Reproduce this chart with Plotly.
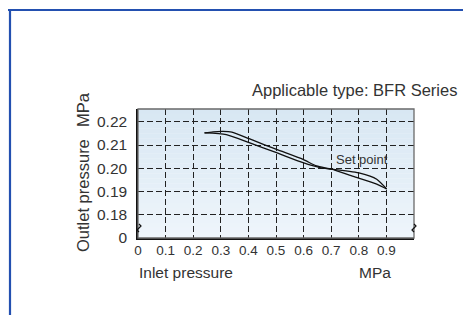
import plotly.graph_objects as go

# ---- data ----
x_ticks = [0, 0.1, 0.2, 0.3, 0.4, 0.5, 0.6, 0.7, 0.8, 0.9]
x_tick_labels = ["0", "0.1", "0.2", "0.3", "0.4", "0.5", "0.6", "0.7", "0.8", "0.9"]
y_ticks = [0.17, 0.18, 0.19, 0.20, 0.21, 0.22]
y_tick_labels = ["0", "0.18", "0.19", "0.20", "0.21", "0.22"]

# branch A: upper at low inlet pressure, lower after the set point
inlet_a = [0.241, 0.272, 0.308, 0.340, 0.405, 0.502, 0.598, 0.647, 0.701, 0.780, 0.865, 0.901]
outlet_a = [0.2152, 0.2157, 0.2159, 0.2156, 0.2126, 0.2081, 0.2038, 0.2010, 0.1996, 0.1965, 0.1932, 0.1911]
# branch B: lower at low inlet pressure, upper after the set point
inlet_b = [0.241, 0.320, 0.405, 0.502, 0.598, 0.659, 0.701, 0.804, 0.865, 0.901]
outlet_b = [0.2152, 0.2145, 0.2109, 0.2067, 0.2024, 0.2003, 0.1996, 0.1979, 0.1953, 0.1911]

# page geometry (page pixels); the html body adds an 8px margin
OFF = 8
PW, PH = 471, 315
W, H = PW - OFF, PH - OFF
L, R, T, B = 138, 414, 109, 238

def px(x):
    return (x - L) / (R - L)

def py(y):
    return (B - y) / (B - T)

FONT = "Liberation Sans, Arial, sans-serif"
TXT = "#333333"

fig = go.Figure()
for xs, ys in [(inlet_a, outlet_a), (inlet_b, outlet_b)]:
    fig.add_trace(go.Scatter(x=xs, y=ys, mode="lines",
                             line=dict(color="#111", width=1.3, shape="spline", smoothing=0.6),
                             showlegend=False, hoverinfo="skip"))

shapes = []
# smooth light-blue gradient (darker at top)
n = 26
c0, c1 = (216, 231, 243), (238, 245, 251)
for i in range(n):
    t = i / (n - 1)
    c = tuple(round(a + (b - a) * t) for a, b in zip(c0, c1))
    shapes.append(dict(type="rect", xref="paper", yref="paper", x0=0, x1=1,
                       y0=1 - (i + 1) / n, y1=1 - i / n + 0.002,
                       fillcolor=f"rgb{c}", line=dict(width=0), layer="below"))
shapes.append(dict(type="rect", xref="paper", yref="paper", x0=0, x1=1, y0=0, y1=1,
                   line=dict(color="#6a6a6a", width=1.3), layer="above"))
blue = "#2350b0"
shapes.append(dict(type="line", xref="paper", yref="paper", x0=px(OFF), x1=px(PW), y0=py(10), y1=py(10),
                   line=dict(color=blue, width=2)))
shapes.append(dict(type="line", xref="paper", yref="paper", x0=px(10), x1=px(10), y0=py(10), y1=py(PH),
                   line=dict(color=blue, width=2.2)))

def squiggle(x0, yc):
    pts = [(x0, yc + 4), (x0 - 2, yc + 2), (x0, yc), (x0 + 2, yc - 2), (x0, yc - 4)]
    d = "M " + " L ".join(f"{px(a):.5f},{py(b):.5f}" for a, b in pts)
    return dict(type="path", xref="paper", yref="paper", path=d, line=dict(color="#111", width=1.2))
shapes.append(squiggle(139, 228))
shapes.append(squiggle(414, 228))

ann = []
def text(t, x, y, size, xanchor="left", angle=0):
    ann.append(dict(text=t, x=px(x), y=py(y), xref="paper", yref="paper", showarrow=False,
                    xanchor=xanchor, yanchor="middle", textangle=angle,
                    font=dict(family=FONT, size=size, color=TXT)))

text("Applicable type: BFR Series", 250, 90, 16.5)
text("Set point", 334, 159, 13)
text("Inlet pressure", 137, 272, 15.5)
text("MPa", 357, 272, 15.5)
text("Outlet pressure", 83, 196, 16.5, xanchor="center", angle=-90)
text("MPa", 83, 110, 16.5, xanchor="center", angle=-90)

fig.update_layout(
    width=W, height=H,
    margin=dict(l=L - OFF, r=PW - R, t=T - OFF, b=PH - B, pad=0),
    paper_bgcolor="white", plot_bgcolor="rgba(0,0,0,0)",
    shapes=shapes, annotations=ann, showlegend=False,
)
fig.update_xaxes(range=[0, 1], tickvals=x_ticks, ticktext=x_tick_labels,
                 showgrid=True, gridcolor="#222", gridwidth=1, griddash="6px,3px",
                 showline=True, linecolor="#111", linewidth=1.5, zeroline=False,
                 ticks="", ticklabelstandoff=-1,
                 tickfont=dict(family=FONT, size=13.5, color=TXT), fixedrange=True)
fig.update_yaxes(range=[0.17, 0.2255], tickvals=y_ticks, ticktext=y_tick_labels,
                 showgrid=True, gridcolor="#222", gridwidth=1, griddash="6px,3px",
                 showline=True, linecolor="#111", linewidth=1.5, zeroline=False,
                 ticks="", ticklabelstandoff=6,
                 tickfont=dict(family=FONT, size=15.5, color=TXT), fixedrange=True)

fig.write_html("out.html")
